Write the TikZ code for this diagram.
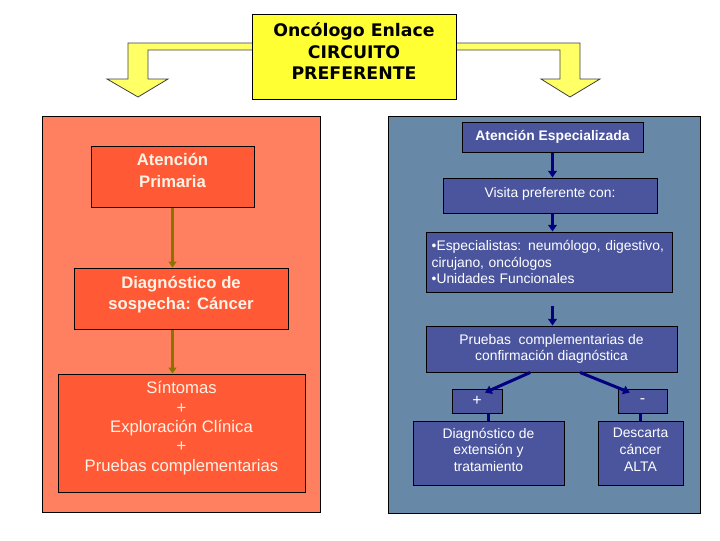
\documentclass[tikz,border=0pt]{standalone}
\usepackage{fontspec}
\setmainfont{Liberation Sans}
\newfontfamily\titlefont{DejaVu Sans}
\usetikzlibrary{arrows.meta,positioning,calc}

\definecolor{salmon}{RGB}{255,128,96}
\definecolor{tomato}{RGB}{255,90,53}
\definecolor{slate}{RGB}{104,136,168}
\definecolor{indigo}{RGB}{74,85,158}
\definecolor{olive}{RGB}{140,115,0}
\definecolor{navy}{RGB}{0,0,128}
\definecolor{lemon}{RGB}{255,255,51}
\definecolor{paleyellow}{RGB}{255,255,102}
\definecolor{cream}{RGB}{255,242,230}

\begin{document}
\begin{tikzpicture}[
    x=0.75pt, y=-0.75pt,
    topbox/.style={draw=black, fill=lemon, align=center, line width=0.75pt, font=\titlefont\bfseries\fontsize{13}{16}\selectfont},
    lbox/.style={draw=black, fill=tomato, text=cream, align=center, line width=0.75pt, font=\bfseries\fontsize{12.5}{16.5}\selectfont},
    rbox/.style={draw=black, fill=indigo, text=white, align=center, line width=0.75pt, font=\fontsize{10.4}{12.5}\selectfont},
    yarrow/.style={draw=black!75, fill=paleyellow, line width=0.6pt},
    oarrow/.style={draw=olive, line width=2.25pt, -{Triangle[width=6pt,length=4.5pt]}},
    narrow/.style={draw=navy, line width=2.25pt, -{Triangle[width=6.5pt,length=5pt]}},
    nline/.style={draw=navy, line width=2.25pt}
]
    \useasboundingbox (0,0) rectangle (720,540);

    % panels
    \draw[fill=salmon, line width=0.75pt] (42,116) rectangle (320,512);
    \draw[fill=slate, line width=0.75pt] (388,116) rectangle (700,513);

    % yellow block arrows
    \draw[yarrow] (260,43) -- (128,43) -- (128,79) -- (107,79) -- (138,97) -- (168,79) -- (148,79) -- (148,50) -- (260,50) -- cycle;
    \draw[yarrow] (450,43) -- (580,43) -- (580,79) -- (600,79) -- (570,97) -- (541,79) -- (560,79) -- (560,50) -- (450,50) -- cycle;

    \node[topbox, minimum width=153pt, minimum height=63.75pt, text depth=8pt] (onco) at (354,56.5) {Oncólogo Enlace\\CIRCUITO\\PREFERENTE};

    % primaria
    \node[lbox, minimum width=122.25pt, minimum height=45.75pt, text depth=9pt] (prim) at (172.5,176.5) {Atención\\Primaria};
    \node[lbox, minimum width=160.5pt, minimum height=45.75pt, text depth=8pt, font=\bfseries\fontsize{12.5}{15.75}\selectfont] (sosp) at (181,298.5) {Diagnóstico de\\sospecha: Cáncer};
    \node[lbox, minimum width=185.25pt, minimum height=88.5pt, text depth=10pt, font=\fontsize{12.5}{14.6}\selectfont] (sint) at (181.5,433) {Síntomas\\+\\Exploración Clínica\\+\\Pruebas complementarias};

    \draw[oarrow] (prim.south) -- (prim.south |- sosp.north);
    \draw[oarrow] (prim.south |- sosp.south) -- (prim.south |- sint.north);

    % especializada
    \node[rbox, minimum width=135.75pt, minimum height=22.5pt, font=\bfseries\fontsize{10.4}{12.5}\selectfont] (esp) at (552.5,137) {Atención Especializada};
    \node[rbox, minimum width=160.5pt, minimum height=26.25pt, text depth=4pt] (visita) at (550,195.5) {Visita preferente con:};
    \node[rbox, minimum width=184.5pt, minimum height=45pt, inner xsep=4pt, text width=176pt, align=left, font=\fontsize{10.4}{12.4}\selectfont] (espec) at (549,262) {•Especialistas: neumólogo, digestivo, cirujano, oncólogos\\•Unidades Funcionales};
    \node[rbox, minimum width=188.25pt, minimum height=34.5pt] (pruebas) at (551.5,349) {Pruebas\ \ complementarias de\\confirmación diagnóstica};
    \node[rbox, minimum width=37.5pt, minimum height=18pt, font=\fontsize{12}{12}\selectfont] (plus) at (477,401) {+};
    \node[rbox, minimum width=36.75pt, minimum height=18pt, font=\fontsize{12}{12}\selectfont] (minus) at (642.5,401) {-};
    \node[rbox, minimum width=113.25pt, minimum height=48pt, text depth=5pt] (ext) at (488.5,453) {Diagnóstico de\\extensión y\\tratamiento};
    \node[rbox, minimum width=63.75pt, minimum height=48pt, text depth=5pt] (alta) at (640.5,453) {Descarta\\cáncer\\ALTA};

    \draw[narrow] (esp.south) -- (esp.south |- visita.north);
    \draw[narrow] (esp.south |- visita.south) -- (esp.south |- espec.north);
    \draw[narrow, shorten <=9.75pt] (esp.south |- espec.south) -- (esp.south |- pruebas.north);
    \draw[narrow] ([xshift=-16pt]pruebas.south) -- ([xshift=6pt,yshift=-3pt]plus.north);
    \draw[narrow] ([xshift=21.5pt]pruebas.south) -- ([xshift=-9.5pt,yshift=-3pt]minus.north);
    \draw[nline] (ext.north |- plus.south) -- (ext.north);
    \draw[nline] (alta.north |- minus.south) -- (alta.north);
\end{tikzpicture}
\end{document}
